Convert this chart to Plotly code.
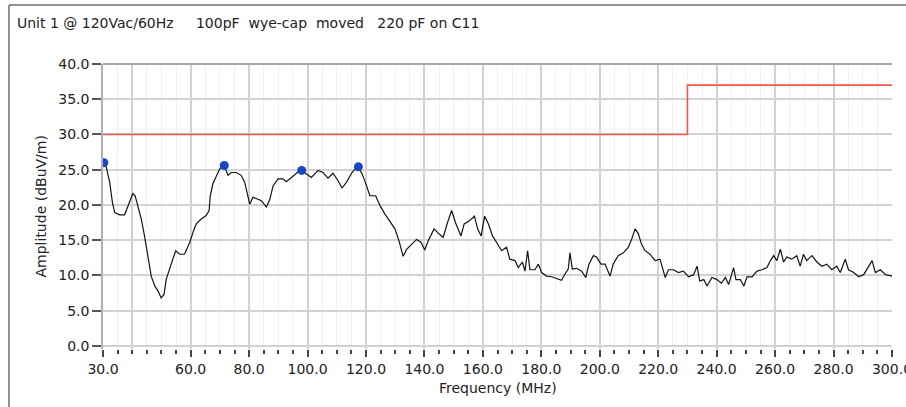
import plotly.graph_objects as go

# ---- data ----
freq_mhz = [30.0, 31.1, 32.3, 33.2, 34.0, 35.7, 37.4, 38.5, 39.3, 40.2, 41.0, 42.0, 43.1, 44.2,
            45.4, 46.5, 47.7, 48.8, 49.9, 50.9, 51.6, 52.8, 53.9, 54.9, 56.2, 57.9, 59.7, 60.8,
            61.9, 63.6, 65.3, 66.3, 66.7, 67.6, 68.8, 69.9, 71.3, 72.8, 73.9, 75.6, 77.3, 78.5,
            80.2, 81.3, 83.0, 84.2, 85.9, 87.1, 88.2, 89.9, 91.6, 92.7, 94.5, 97.6, 99.6, 101.3,
            103.6, 105.3, 107.0, 108.7, 110.5, 111.8, 113.3, 115.2, 117.1, 118.7, 120.2, 121.3,
            123.3, 124.8, 126.5, 128.2, 129.9, 131.3, 132.7, 133.9, 135.6, 137.3, 138.8, 140.1,
            141.3, 143.3, 144.7, 146.4, 147.9, 149.3, 150.6, 151.6, 152.5, 153.6, 155.3, 157.1,
            158.2, 159.4, 160.6, 161.9, 163.3, 164.8, 166.4, 168.1, 169.2, 171.0, 172.1, 173.5,
            174.4, 175.3, 176.1, 177.8, 179.0, 180.1, 181.8, 183.5, 185.2, 186.9, 188.1, 189.2,
            189.8, 190.6, 192.1, 193.8, 195.2, 196.3, 197.8, 198.9, 200.4, 201.8, 203.5, 204.6,
            206.3, 208.1, 209.8, 210.7, 212.1, 213.2, 214.3, 215.5, 217.2, 218.9, 220.6, 222.4,
            223.5, 225.2, 226.9, 228.6, 230.4, 232.1, 233.3, 234.2, 235.6, 236.7, 238.4, 240.1,
            241.6, 243.0, 244.1, 245.8, 246.6, 248.1, 249.3, 250.4, 252.1, 253.8, 255.5, 257.2,
            258.4, 259.5, 260.6, 261.8, 262.9, 264.0, 265.7, 267.4, 268.6, 269.7, 270.8, 272.6,
            274.3, 276.0, 277.7, 279.4, 281.1, 282.3, 284.0, 285.1, 286.9, 288.6, 290.3, 292.0,
            293.2, 294.3, 296.0, 297.8, 299.5, 300.0]
amplitude = [26.1, 25.4, 23.2, 20.4, 18.9, 18.6, 18.6, 19.7, 20.6, 21.6, 21.3, 19.9, 18.0, 15.6,
             12.3, 9.9, 8.5, 7.8, 6.8, 7.3, 9.4, 11.1, 12.3, 13.5, 13.0, 13.0, 14.7, 16.1,
             17.3, 18.0, 18.5, 19.2, 21.3, 23.0, 24.2, 25.1, 25.7, 24.2, 24.6, 24.6, 24.2, 23.2,
             20.1, 21.1, 20.8, 20.6, 19.7, 20.8, 22.7, 23.7, 23.7, 23.3, 23.9, 25.0, 24.4, 23.9,
             24.9, 24.6, 23.8, 24.5, 23.4, 22.4, 23.2, 24.6, 25.5, 24.4, 22.7, 21.3,
             21.3, 19.9, 18.7, 17.7, 16.6, 14.9, 12.7, 13.7, 14.4, 15.1, 14.7, 13.6,
             14.9, 16.6, 16.0, 15.4, 17.5, 19.2, 17.5, 16.6, 15.6, 17.3, 17.7, 18.4,
             16.6, 15.6, 18.4, 17.3, 15.6, 14.6, 13.5, 14.0, 12.3, 12.1, 11.1, 11.9,
             10.6, 13.5, 10.8, 10.8, 11.6, 10.4, 9.9, 9.8, 9.5, 9.3, 10.2, 10.9,
             13.2, 10.9, 11.0, 10.6, 9.7, 11.6, 12.8, 12.6, 11.6, 11.6, 9.9, 11.6,
             12.8, 13.2, 14.0, 14.9, 16.6, 15.9, 14.4, 13.5, 13.0, 12.1, 12.3, 9.7,
             10.8, 10.8, 10.4, 10.6, 9.8, 10.1, 11.3, 9.2, 9.4, 8.5, 9.7, 9.4,
             8.9, 9.7, 8.7, 11.1, 9.4, 9.4, 8.5, 9.8, 9.8, 10.6, 10.8, 11.1,
             12.1, 12.8, 12.1, 13.7, 11.9, 12.6, 12.3, 12.8, 11.3, 13.0, 12.1, 12.8,
             11.9, 11.3, 11.6, 10.8, 11.3, 10.4, 12.3, 10.8, 10.4, 9.8, 10.1, 11.3,
             12.1, 10.4, 10.8, 10.1, 9.9, 9.9]

limit_freq = [30.0, 230.0, 300.0]
limit_amp = [30.0, 37.0, 37.0]

peak_freq = [30.3, 71.5, 98.0, 117.4]
peak_amp = [26.0, 25.6, 24.9, 25.4]

x_tick_vals = [30, 40, 60, 80, 100, 120, 140, 160, 180, 200, 220, 240, 260, 280, 300]
x_tick_text = ["30.0", "", "60.0", "80.0", "100.0", "120.0", "140.0", "160.0", "180.0",
               "200.0", "220.0", "240.0", "260.0", "280.0", "300.0"]
x_minor_vals = list(range(30, 301, 5))
y_tick_vals = [0, 5, 10, 15, 20, 25, 30, 35, 40]
y_tick_text = ["0.0", "5.0", "10.0", "15.0", "20.0", "25.0", "30.0", "35.0", "40.0"]

title_text = ("Unit 1 @ 120Vac/60Hz\u00a0\u00a0\u00a0\u00a0\u00a0100pF\u00a0\u00a0wye-cap"
              "\u00a0\u00a0moved\u00a0\u00a0\u00a0220 pF on C11")

FONT = "DejaVu Sans"
W, H = 906, 407
ML, MR, MT, MB = 103, 14, 64, 58

fig = go.Figure()
fig.add_trace(go.Scatter(x=limit_freq, y=limit_amp, mode="lines", line_shape="hv",
                         line=dict(color="#ee5a46", width=1.6), hoverinfo="skip"))
fig.add_trace(go.Scatter(x=freq_mhz, y=amplitude, mode="lines",
                         line=dict(color="#141414", width=1.2)))
fig.add_trace(go.Scatter(x=peak_freq, y=peak_amp, mode="markers",
                         marker=dict(color="#1846c8", size=9)))

pw = W - ML - MR
ph = H - MT - MB
def px_x(p):
    return (p - ML) / pw
def px_y(p):
    return (H - MB - p) / ph

fig.update_layout(
    width=W, height=H,
    margin=dict(l=ML, r=MR, t=MT, b=MB, pad=0, autoexpand=False),
    paper_bgcolor="white", plot_bgcolor="white",
    showlegend=False,
    font=dict(family=FONT, size=14, color="#222222"),
    title=dict(text=title_text, x=17 / W, xanchor="left", xref="container",
               y=1 - 23 / H, yanchor="middle", yref="container",
               font=dict(family=FONT, size=14, color="#222222")),
    xaxis=dict(range=[30, 300], tickmode="array", tickvals=x_tick_vals, ticktext=x_tick_text,
               showgrid=True, gridcolor="#d2d2d2", gridwidth=1.5,
               ticks="outside", ticklen=7, tickwidth=1.5, tickcolor="#444444",
               tickfont=dict(family=FONT, size=14, color="#222222"),
               ticklabeloverflow="allow", automargin=False,
               showline=False, zeroline=False,
               minor=dict(tickvals=x_minor_vals, ticks="outside", ticklen=4, tickwidth=1.5,
                          tickcolor="#444444", showgrid=True, gridcolor="#f0f0f0",
                          gridwidth=1)),
    yaxis=dict(range=[-0.45, 40], tickmode="array", tickvals=y_tick_vals, ticktext=y_tick_text,
               showgrid=True, gridcolor="#d2d2d2", gridwidth=1.5,
               ticks="outside", ticklen=9, tickwidth=1.5, tickcolor="#555555",
               tickfont=dict(family=FONT, size=14, color="#222222"), automargin=False,
               showline=True, linecolor="#b0b0b0", linewidth=1.5, zeroline=False),
    annotations=[
        dict(text="Frequency (MHz)", xref="paper", yref="paper", x=0.5, y=0,
             xanchor="center", yanchor="middle", yshift=-(388 - (H - MB)), showarrow=False,
             font=dict(family=FONT, size=14, color="#222222")),
        dict(text="Amplitude (dBuV/m)", xref="paper", yref="paper", x=0, y=0.5,
             xanchor="center", yanchor="middle", xshift=40 - ML, textangle=-90,
             showarrow=False, font=dict(family=FONT, size=14, color="#222222")),
    ],
    shapes=[
        dict(type="line", xref="paper", yref="paper", x0=0, x1=1, y0=1, y1=1,
             line=dict(color="#a8a8a8", width=2)),
        dict(type="line", xref="paper", yref="paper", x0=px_x(9), x1=px_x(W + 2),
             y0=px_y(5), y1=px_y(5), line=dict(color="#909090", width=2)),
        dict(type="line", xref="paper", yref="paper", x0=px_x(9), x1=px_x(9),
             y0=px_y(5), y1=px_y(H + 2), line=dict(color="#909090", width=2)),
    ],
)

fig.write_html("out.html", config={"displayModeBar": False},
               post_script="document.body.style.margin='0';document.body.style.overflow='hidden';")
